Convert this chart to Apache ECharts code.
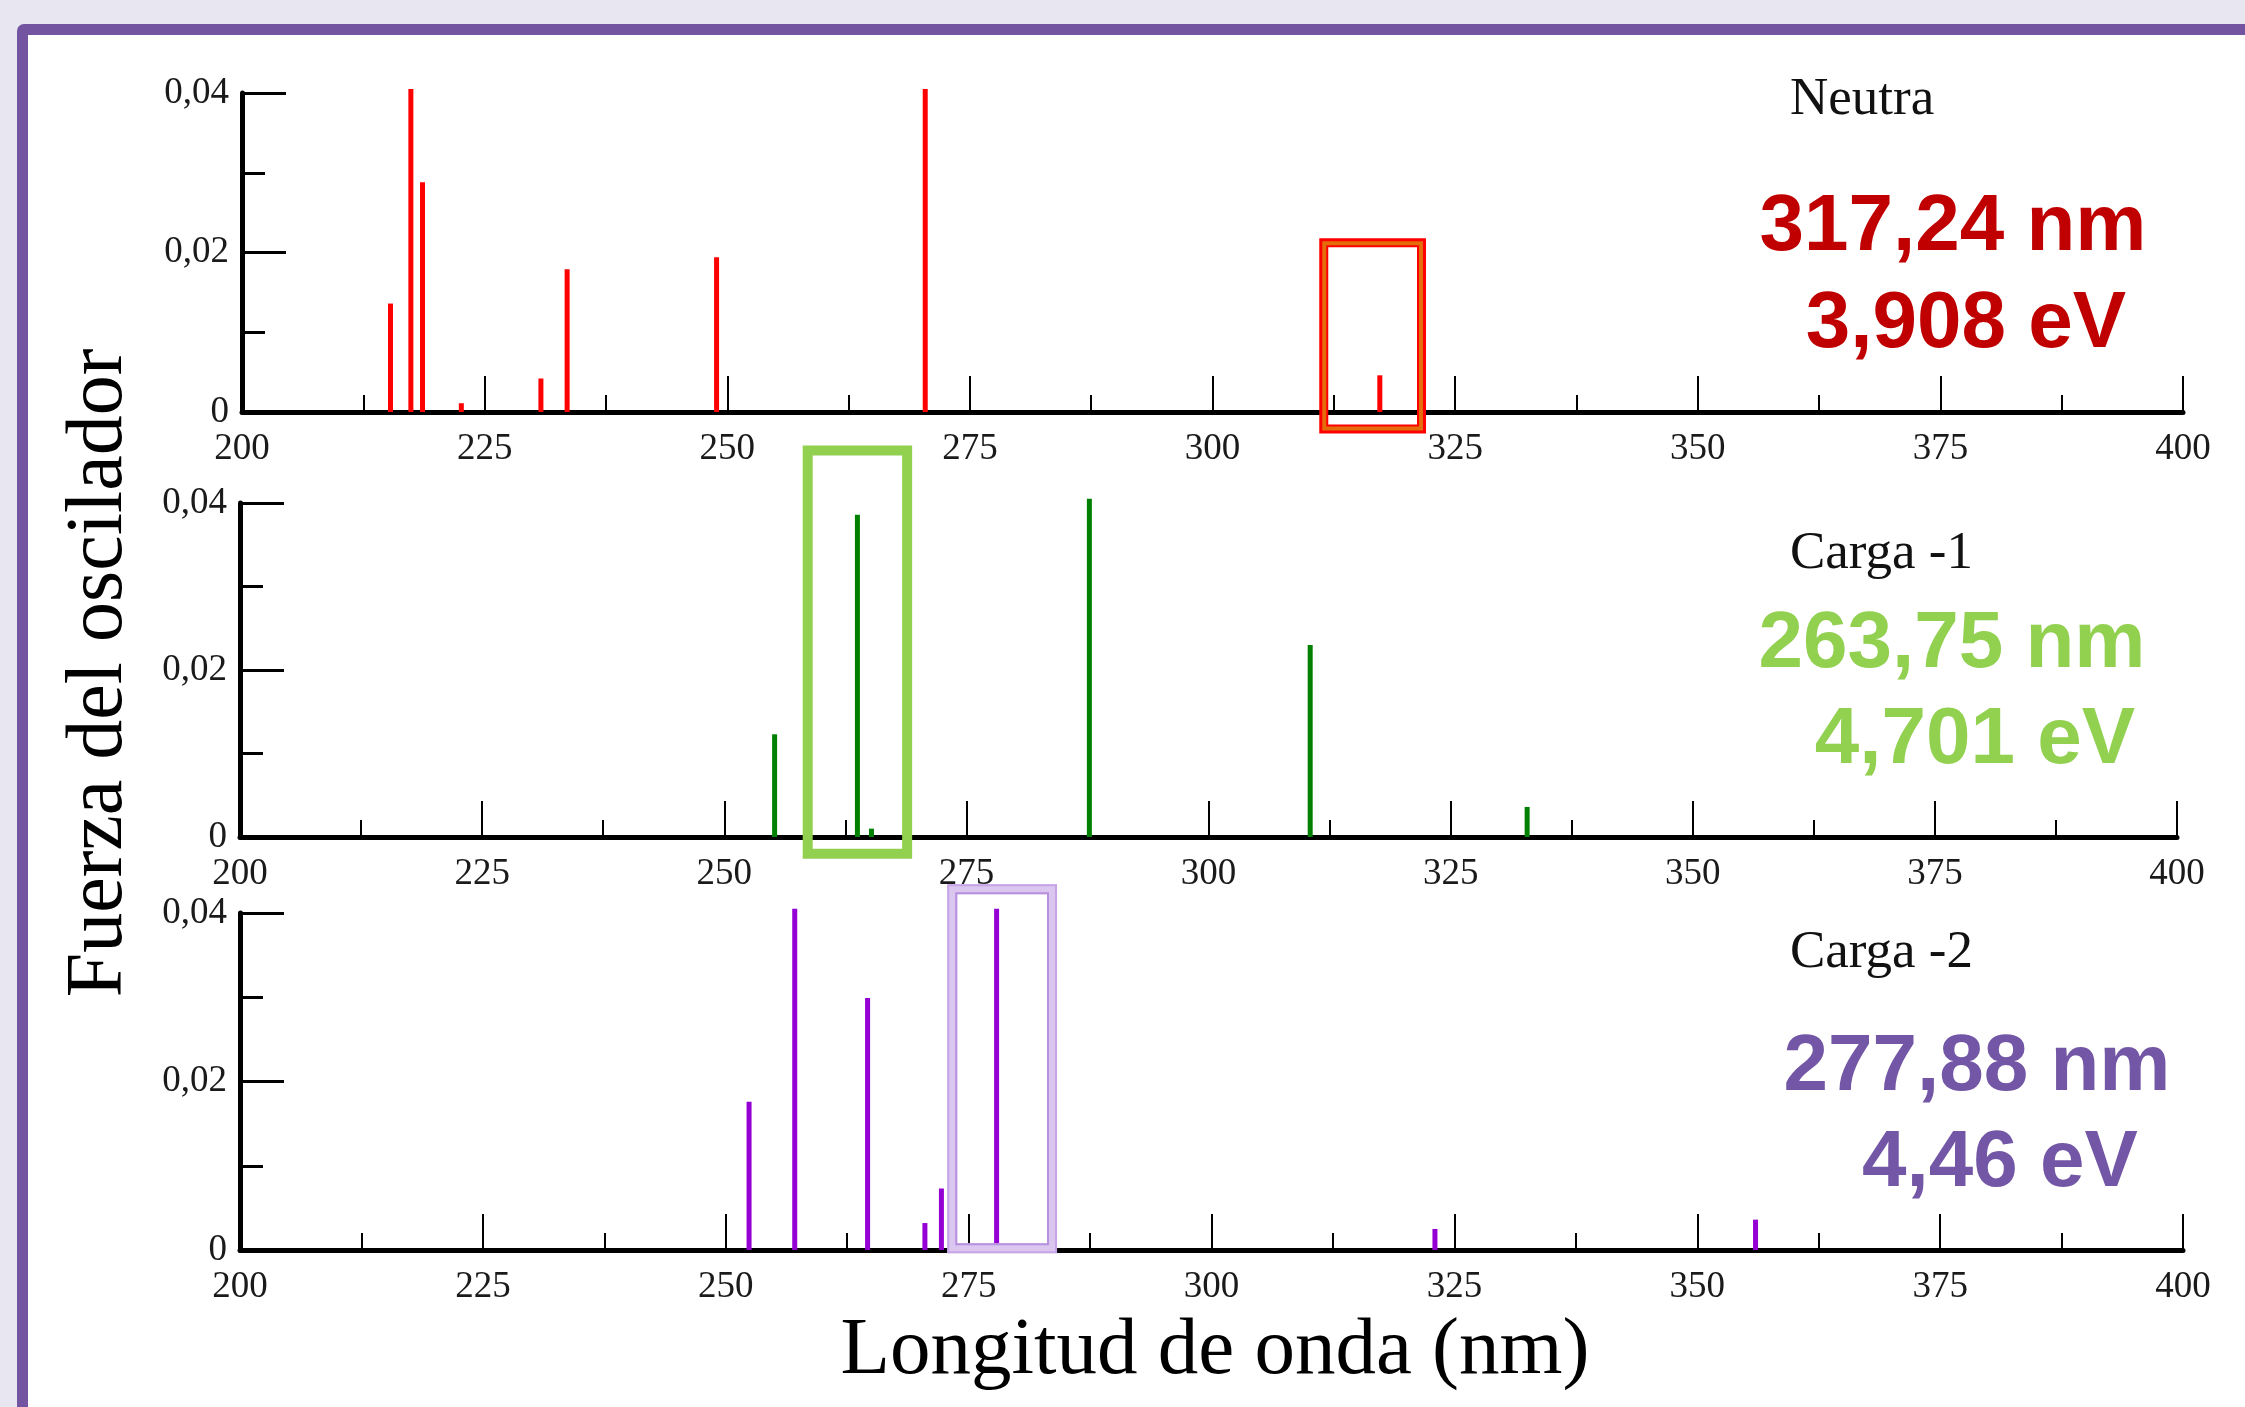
<!DOCTYPE html>
<html>
<head>
<meta charset="utf-8">
<script src="https://cdn.jsdelivr.net/npm/echarts@6/dist/echarts.min.js"></script>
<style>
  html, body { margin: 0; padding: 0; background: #E8E6F1; }
  #frame { position: absolute; left: 17px; top: 24px; width: 2260px; height: 1374px;
           border: 11px solid #7254A0; border-radius: 7px; background: #FFFFFF; }
  #chart { position: absolute; left: 0; top: 0; width: 2245px; height: 1407px; }
</style>
</head>
<body>
<div id="frame"></div>
<div id="chart"></div>
<script>
// ---- data ----
const panelNames = ['Neutra', 'Carga -1', 'Carga -2'];
const neutraNm = [215.3, 217.4, 218.6, 222.6, 230.8, 233.5, 248.9, 270.4, 317.24];
const neutraF  = [0.0136, 0.0405, 0.0288, 0.0011, 0.0042, 0.0179, 0.0194, 0.0405, 0.0046];
const carga1Nm = [255.2, 263.75, 265.2, 287.7, 310.5, 332.9];
const carga1F  = [0.0123, 0.0386, 0.0010, 0.0405, 0.0230, 0.0036];
const carga2Nm = [252.4, 257.1, 264.6, 270.5, 272.2, 277.88, 323.0, 356.0];
const carga2F  = [0.0176, 0.0405, 0.0299, 0.0032, 0.0073, 0.0405, 0.0025, 0.0036];
const highlightNm = ['317,24 nm', '263,75 nm', '277,88 nm'];
const highlightEv = ['3,908 eV', '4,701 eV', '4,46 eV'];
// highlight boxes: [nmFrom, nmTo, fFrom, fTo]
const neutraBox = [311.0, 322.0, -0.0027, 0.0218];
const carga1Box = [258.1, 269.4, -0.0026, 0.0469];
const carga2Box = [272.8, 284.1, -0.0004, 0.0434];
const xTickMin = 200, xTickMax = 400, xTickStep = 25;
const yTickMin = 0, yTickMax = 0.04, yTickStep = 0.02;
const xTitle = 'Longitud de onda (nm)';
const yTitle = 'Fuerza del oscilador';

// ---- styling ----
const barColors = ['#FF0000', '#008000', '#9400D3'];
const textColors = ['#C00000', '#92D050', '#7356A5'];
const serif = '"Liberation Serif", "DejaVu Serif", serif';
const sans = '"Liberation Sans", Arial, sans-serif';

const grids = [
  { left: 242, right: 62, top: 93, height: 319 },
  { left: 240, right: 68, top: 503, height: 334 },
  { left: 240, right: 62, top: 913, height: 337 }
];

function zip(a, b) { return a.map((v, i) => [v, b[i]]); }
const seriesData = [zip(neutraNm, neutraF), zip(carga1Nm, carga1F), zip(carga2Nm, carga2F)];

const chart = echarts.init(document.getElementById('chart'), null, { renderer: 'canvas' });

const xAxes = grids.map((g, i) => ({
  type: 'value', gridIndex: i, min: xTickMin, max: xTickMax, interval: xTickStep,
  axisLine: { show: true, onZero: false, lineStyle: { color: '#000', width: 5 } },
  axisTick: { show: true, inside: true, length: 36, lineStyle: { color: '#000', width: 2 } },
  minorTick: { show: true, splitNumber: 2, length: 17, lineStyle: { color: '#000', width: 2 } },
  splitLine: { show: false },
  axisLabel: { fontFamily: serif, fontSize: 37, color: '#1a1a1a', margin: 19 }
}));
const yAxes = grids.map((g, i) => ({
  type: 'value', gridIndex: i, min: yTickMin, max: yTickMax, interval: yTickStep,
  axisLine: { show: true, lineStyle: { color: '#000', width: 5 } },
  axisTick: { show: true, inside: true, length: 44, lineStyle: { color: '#000', width: 3 } },
  minorTick: { show: true, splitNumber: 2, length: 23, lineStyle: { color: '#000', width: 3 } },
  splitLine: { show: false },
  axisLabel: { fontFamily: serif, fontSize: 37, color: '#1a1a1a', margin: 13,
    formatter: v => v === 0 ? '0' : v.toFixed(2).replace('.', ',') }
}));
const series = seriesData.map((d, i) => ({
  type: 'bar', xAxisIndex: i, yAxisIndex: i, data: d, barWidth: 5, clip: false,
  itemStyle: { color: barColors[i] }, z: 3
}));

chart.setOption({
  animation: false,
  backgroundColor: 'transparent',
  grid: grids,
  xAxis: xAxes,
  yAxis: yAxes,
  series: series
});

function txt(text, x, y, font, fill, align, extra) {
  return Object.assign({
    type: 'text', x: x, y: y, z: 100,
    style: { text: text, font: font, fill: fill, align: align, verticalAlign: 'middle',
             textAlign: align, textVerticalAlign: 'middle' }
  }, extra || {});
}
function boxPx(gi, b) {
  const p1 = chart.convertToPixel({ gridIndex: gi }, [b[0], b[3]]);
  const p2 = chart.convertToPixel({ gridIndex: gi }, [b[1], b[2]]);
  return { x: p1[0], y: p1[1], w: p2[0] - p1[0], h: p2[1] - p1[1] };
}
function strokeRect(r, inset, color, width) {
  return { type: 'rect', z: 50,
    shape: { x: r.x + inset, y: r.y + inset, width: r.w - 2 * inset, height: r.h - 2 * inset },
    style: { fill: null, stroke: color, lineWidth: width } };
}

const graphics = [];
// panel titles and highlighted values
const titleY = [100, 554, 953];
const nmY = [228, 645, 1068], evY = [325, 741, 1164];
const nmX = [1953, 1952, 1977], evX = [1966, 1975, 2000];
for (let i = 0; i < 3; i++) {
  graphics.push(txt(panelNames[i], 1790, titleY[i], '53px ' + serif, '#111', 'left'));
  graphics.push(txt(highlightNm[i], nmX[i], nmY[i], 'bold 80px ' + sans, textColors[i], 'center'));
  graphics.push(txt(highlightEv[i], evX[i], evY[i], 'bold 80px ' + sans, textColors[i], 'center'));
}
// axis titles
graphics.push(txt(xTitle, 1215, 1352, '81px ' + serif, '#000', 'center'));
graphics.push(txt(yTitle, 100, 673, '80px ' + serif, '#000', 'center', { rotation: Math.PI / 2 }));

// highlight boxes
const rb = boxPx(0, neutraBox);
graphics.push(strokeRect(rb, 4.5, '#FF0000', 9));
graphics.push(strokeRect(rb, 5, '#E46C0A', 4));
const gb = boxPx(1, carga1Box);
graphics.push(strokeRect(gb, 5, '#92D050', 10));
const pb = boxPx(2, carga2Box);
graphics.push(strokeRect(pb, 5, '#DAC6EF', 10));
graphics.push(strokeRect(pb, 1, '#C6A4E6', 2));
graphics.push(strokeRect(pb, 9, '#B790DF', 2));

chart.setOption({ graphic: graphics });
</script>
</body>
</html>
